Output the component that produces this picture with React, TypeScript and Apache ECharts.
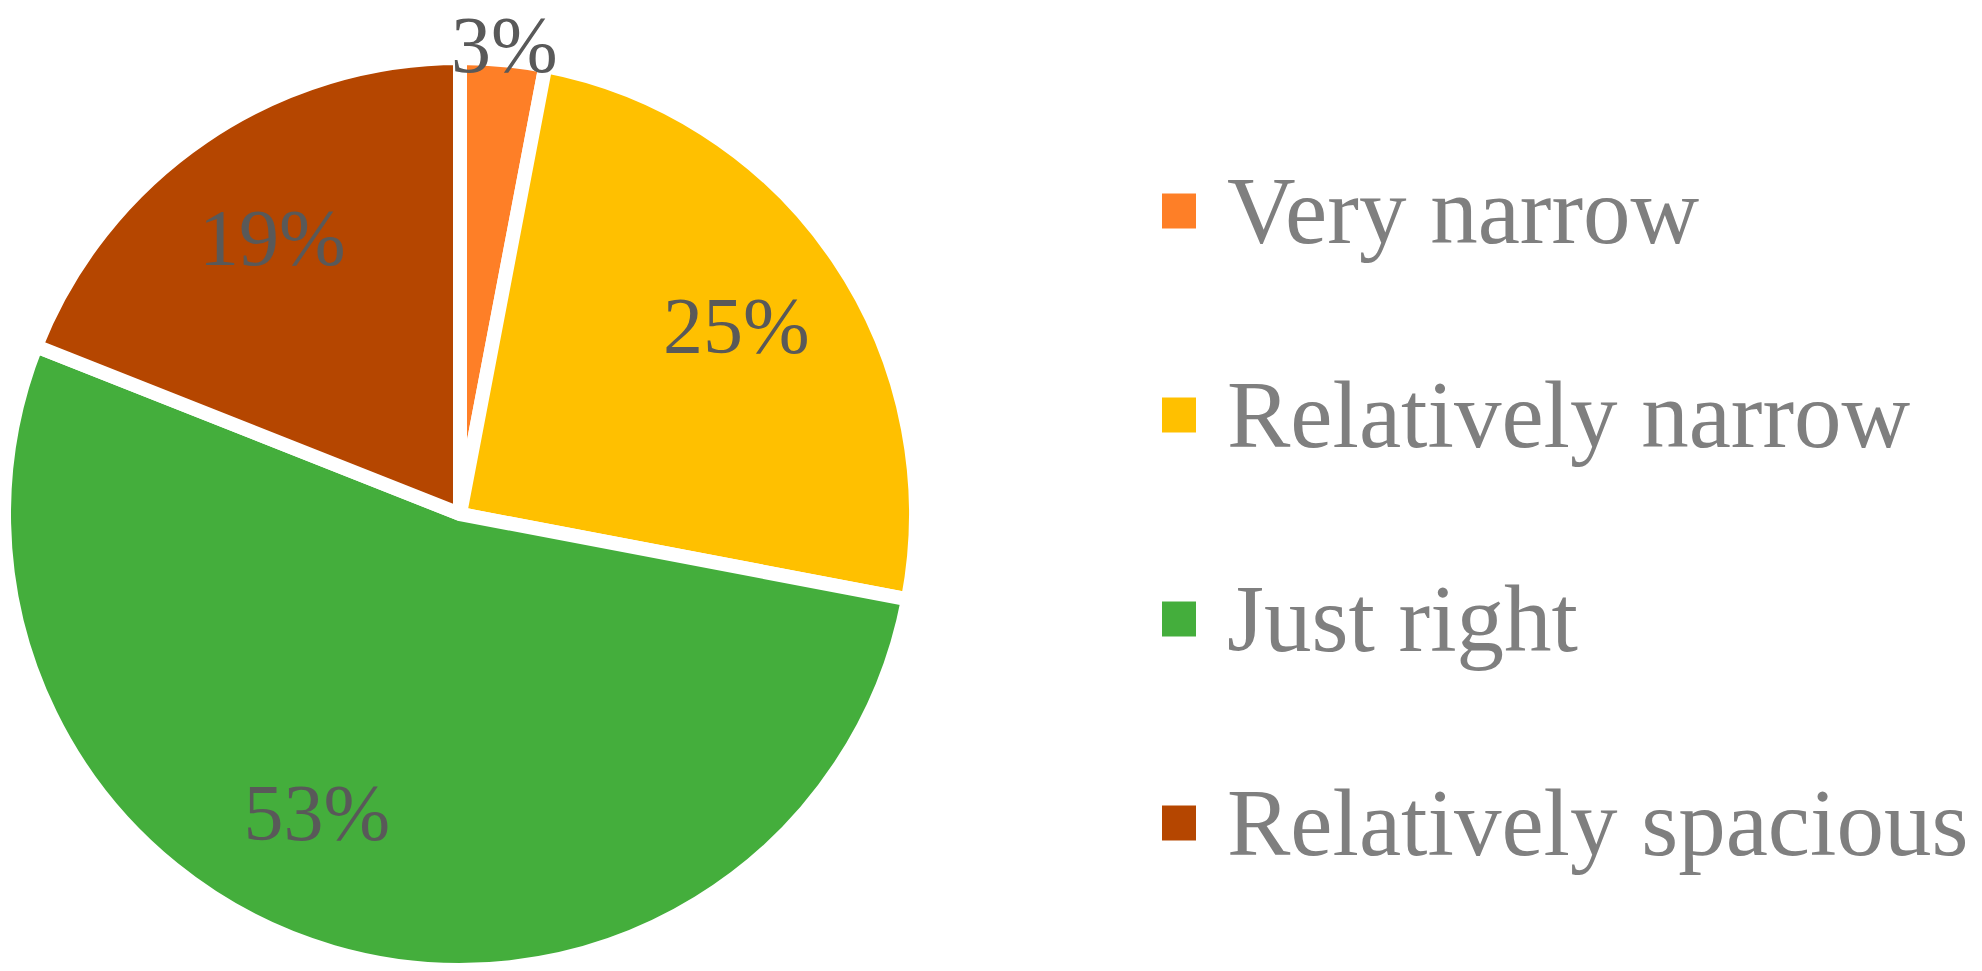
import React, { useEffect, useRef } from "react";
import * as echarts from "echarts";

const categories = ["Very narrow", "Relatively narrow", "Just right", "Relatively spacious"];
const shares = [3, 25, 53, 19];
const colors = ["#FE7F27", "#FFC000", "#44AE3C", "#B54600"];
// which labels sit inside the slice (true) vs. just outside the rim (false)
const labelInside = [false, true, true, true];

export default function App() {
  const ref = useRef<HTMLDivElement>(null);
  useEffect(() => {
    if (!ref.current) return;
    const chart = echarts.init(ref.current, null, { renderer: "svg" });
    const center = [460, 514];
    const R = 456;
    const labelStyle = {
      fontFamily: "'Liberation Serif', 'Times New Roman', serif",
      fontSize: 80,
      color: "#595959",
    };
    const transparentBase = {
      type: "pie",
      center,
      startAngle: 90,
      clockwise: true,
      silent: true,
      avoidLabelOverlap: false,
      labelLine: { show: false },
      emphasis: { disabled: true },
      itemStyle: { color: "rgba(0,0,0,0)", borderWidth: 0 },
    };
    chart.setOption({
      animation: false,
      backgroundColor: "#ffffff",
      legend: {
        orient: "vertical",
        left: 1155,
        top: 156,
        data: categories,
        icon: "rect",
        itemWidth: 36,
        itemHeight: 37,
        itemGap: 104,
        selectedMode: false,
        textStyle: {
          fontFamily: "'Liberation Serif', 'Times New Roman', serif",
          fontSize: 95,
          lineHeight: 100,
          color: "#7F7F7F",
          padding: [0, 0, 0, 25],
        },
      },
      series: [
        {
          type: "pie",
          center,
          radius: R,
          startAngle: 90,
          clockwise: true,
          silent: true,
          label: { show: false },
          labelLine: { show: false },
          emphasis: { disabled: true },
          itemStyle: { borderColor: "#ffffff", borderWidth: 14 },
          data: categories.map((name, i) => ({
            name,
            value: shares[i],
            itemStyle: { color: colors[i] },
          })),
        },
        {
          ...transparentBase,
          radius: [206, R],
          label: { show: true, position: "inside", formatter: "{c}%", ...labelStyle },
          labelLayout: (p: any) => (p.dataIndex === 2 ? { dx: -50, dy: -22 } : {}),
          data: categories.map((name, i) => ({
            name,
            value: shares[i],
            label: { show: labelInside[i] },
          })),
        },
        {
          ...transparentBase,
          radius: [R, 481],
          label: { show: true, position: "inside", formatter: "{c}%", ...labelStyle },
          data: categories.map((name, i) => ({
            name,
            value: shares[i],
            label: { show: !labelInside[i] },
          })),
        },
      ],
    });
    return () => chart.dispose();
  }, []);
  return (
    <div
      ref={ref}
      style={{ position: "fixed", left: 0, top: 0, width: "1982px", height: "971px" }}
    />
  );
}
